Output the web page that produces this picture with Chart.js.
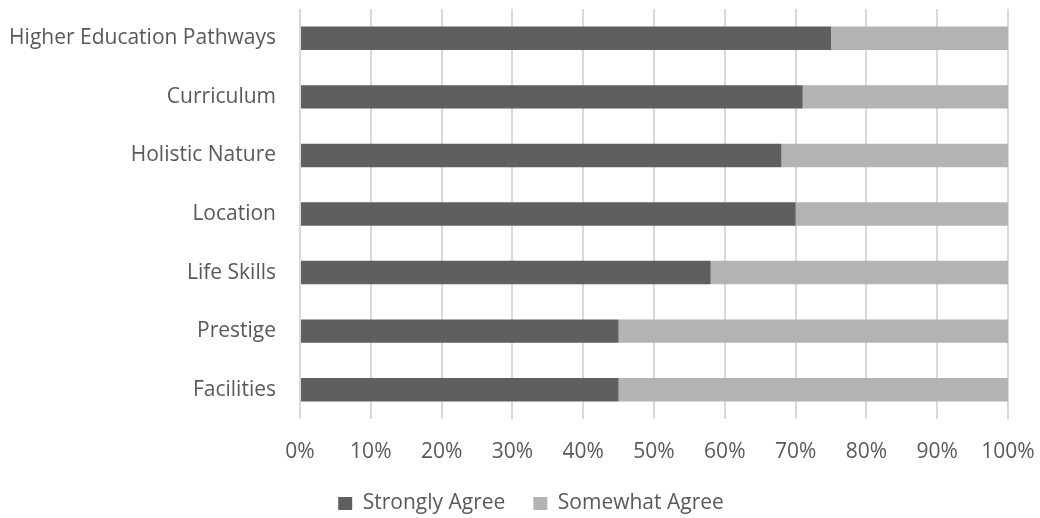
<!DOCTYPE html>
<html>
<head>
<meta charset="utf-8">
<script src="https://cdn.jsdelivr.net/npm/chart.js@4.4.1/dist/chart.umd.min.js"></script>
<style>
  html, body { margin: 0; padding: 0; background: #ffffff; }
  #wrap { width: 1040px; height: 518px; }
</style>
</head>
<body>
<div id="wrap"><canvas id="chartBarras" width="1040" height="518"></canvas></div>
<script>
// Categorías (de arriba hacia abajo)
const categorias = ['Higher Education Pathways', 'Curriculum', 'Holistic Nature', 'Location', 'Life Skills', 'Prestige', 'Facilities'];

// Porcentajes
const muyDeAcuerdo = [75, 71, 68, 70, 58, 45, 45];
const algoDeAcuerdo = [25, 29, 32, 30, 42, 55, 55];

// Marcas del eje x
const marcasX = [0, 10, 20, 30, 40, 50, 60, 70, 80, 90, 100];

const fuente = { family: '"Open Sans", sans-serif', size: 21 };
const colorTexto = '#595959';

// La leyenda usa el mismo padding para separar elementos y para el alto;
// aquí se recorta el alto y se corre un poco a la derecha
const ajusteLeyenda = {
    id: 'ajusteLeyenda',
    afterInit(chart) {
        const leyenda = chart.legend;
        if (!leyenda) return;
        const fitOriginal = leyenda.fit;
        leyenda.fit = function () {
            fitOriginal.call(this);
            this.height = 52;
        };
    },
    beforeDraw(chart) {
        if (chart.legend) chart.legend.left = 54;
    }
};

const barras = document.getElementById('chartBarras');

const chartBarras = new Chart(barras, {
    type: 'bar',
    data: {
        labels: categorias,
        datasets: [
            {
                label: 'Strongly Agree',
                data: muyDeAcuerdo,
                backgroundColor: '#5f5f5f',
                categoryPercentage: 1,
                barPercentage: 0.4
            },
            {
                label: 'Somewhat Agree',
                data: algoDeAcuerdo,
                backgroundColor: '#b3b3b3',
                categoryPercentage: 1,
                barPercentage: 0.4
            }
        ]
    },
    options: {
        indexAxis: 'y',
        responsive: false,
        animation: false,
        layout: { padding: { top: 9, right: 32, bottom: 1, left: 0 } },
        plugins: {
            legend: {
                position: 'bottom',
                labels: {
                    color: colorTexto,
                    font: fuente,
                    boxWidth: 14,
                    boxHeight: 13,
                    padding: 28
                }
            },
            tooltip: { enabled: false }
        },
        scales: {
            x: {
                stacked: true,
                min: 0,
                max: 100,
                afterBuildTicks: (escala) => {
                    escala.ticks = marcasX.map(v => ({ value: v }));
                },
                afterFit: (escala) => {
                    escala.height = 46;
                    escala.paddingLeft = 0;
                    escala.paddingRight = 0;
                },
                ticks: {
                    color: colorTexto,
                    font: fuente,
                    padding: 20,
                    maxRotation: 0,
                    callback: (v) => v + '%'
                },
                grid: {
                    color: '#d9d9d9',
                    lineWidth: 2,
                    drawTicks: false
                },
                border: { display: false }
            },
            y: {
                stacked: true,
                afterFit: (escala) => {
                    escala.width = 300;
                    escala.paddingTop = 0;
                    escala.paddingBottom = 0;
                },
                ticks: {
                    color: colorTexto,
                    font: fuente,
                    padding: 24
                },
                grid: { display: false, drawTicks: false },
                border: { display: false }
            }
        }
    },
    plugins: [ajusteLeyenda]
});
</script>
</body>
</html>
